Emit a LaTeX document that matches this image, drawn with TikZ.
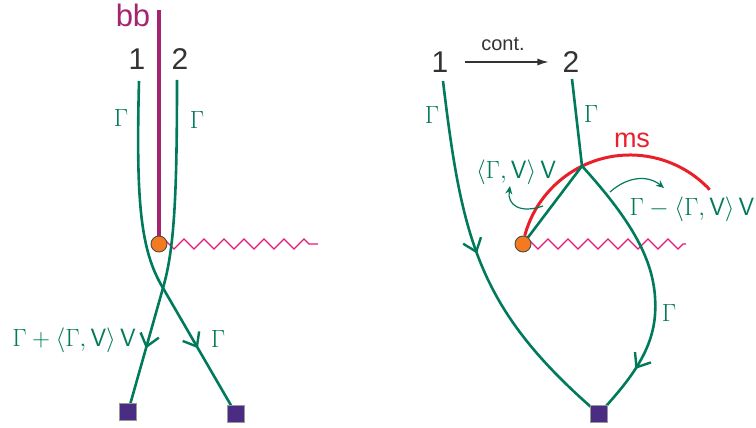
\documentclass[tikz,border=0pt]{standalone}
\usepackage{fontspec}
\newfontfamily\arialf{Liberation Sans}
\usetikzlibrary{decorations.pathmorphing,decorations.markings,arrows.meta}
\definecolor{pgreen}{HTML}{007A5A}
\definecolor{bbpurple}{HTML}{A3256F}
\definecolor{zigpink}{HTML}{E8177D}
\definecolor{msred}{HTML}{E8202A}
\definecolor{dotorange}{HTML}{F47A20}
\definecolor{sqpurple}{HTML}{4B2C83}
\definecolor{txtgray}{HTML}{333333}
\begin{document}
\begin{tikzpicture}[x=1pt,y=-1pt,
  gline/.style={draw=pgreen,line width=2.6pt},
  midarrow/.style={postaction={decorate},decoration={markings,
     mark=at position #1 with {\arrow[line width=2.4pt]{Straight Barb[length=12pt,width=19pt]}}}},
  thinarrow/.style={draw=pgreen,line width=1.2pt,-{Stealth[length=8pt,width=7pt]}},
  dotnode/.style={circle,draw=black!70,fill=dotorange,line width=0.9pt,minimum size=16pt,inner sep=0pt},
  sqnode/.style={rectangle,draw=gray!80,fill=sqpurple,line width=0.8pt,minimum size=17pt,inner sep=0pt},
  zig/.style={draw=zigpink,line width=1.1pt,decorate,decoration={zigzag,segment length=20pt,amplitude=5pt}},
  bbline/.style={draw=bbpurple,line width=4pt},
  msarc/.style={draw=msred,line width=3pt},
  glabel/.style={text=pgreen,font=\fontsize{25}{25}\selectfont,inner sep=0pt},
  numlabel/.style={text=txtgray,font=\arialf\fontsize{30}{30}\selectfont,inner sep=0pt},
  bblabel/.style={text=bbpurple,font=\arialf\fontsize{31}{31}\selectfont,inner sep=0pt},
  mslabel/.style={text=msred,font=\arialf\fontsize{27}{27}\selectfont,inner sep=0pt},
  contlabel/.style={text=txtgray,font=\arialf\fontsize{20}{20}\selectfont,inner sep=0pt},
  contarrow/.style={draw=txtgray,line width=1.2pt,-{Latex[length=11pt,width=7pt]}}
]
\useasboundingbox (0,0) rectangle (756,428);

%% ---------------- left diagram ----------------
\node[numlabel] (n1) at (137,59) {1};
\node[numlabel] (n2) at (180,59) {2};
\node[bblabel] (bb) at (133,15) {bb};
\coordinate (bbtop) at (159,10);
\coordinate (a1) at (139,81);
\coordinate (b1) at (177,80);
\coordinate (xL) at (163,288);
\coordinate (dLc) at (159,244);
\coordinate (zL) at (318,244);
\coordinate (sqLc) at (128,412);
\coordinate (sqRc) at (236,414);

\draw[zig] (dLc) -- (zL);
\draw[bbline] (bbtop) -- (dLc);
\draw[gline,midarrow=-76pt] (a1) .. controls (136,200) and (140,250) .. (xL) -- (sqRc);
\draw[gline,midarrow=-66pt] (b1) .. controls (177,200) and (174,250) .. (xL) -- (sqLc);
\node[dotnode] (dL) at (dLc) {};
\node[sqnode] (sqL) at (sqLc) {};
\node[sqnode] (sqR) at (sqRc) {};

\node[glabel] (gl1) at (121,118) {$\Gamma$};
\node[glabel] (gl2) at (197,120) {$\Gamma$};
\node[glabel] (gl3) at (218,339) {$\Gamma$};
\node[glabel] (gl4) at (74,340) {$\Gamma+\langle\Gamma,\mathsf{V}\rangle\,\mathsf{V}$};

%% ---------------- right diagram ----------------
\node[numlabel] (m1) at (440,62) {1};
\node[numlabel] (m2) at (571,62) {2};
\node[contlabel] (cont) at (503,44) {cont.};
\draw[contarrow,shorten <=16pt,shorten >=14pt] (m1) -- (m2);

\coordinate (c1) at (443,81);
\coordinate (d1) at (572,79);
\coordinate (v) at (582,166);
\coordinate (dRc) at (523,244);
\coordinate (zR) at (686,244);
\coordinate (sq2c) at (599,414);
\coordinate (arcc) at (630,264);

\draw[zig] (dRc) -- (zR);
\draw[msarc] (arcc) ++(-165:109) arc[start angle=-165,end angle=-43,radius=109];
\draw[gline,midarrow=-204pt] (c1) .. controls (462,240) and (478,310) .. (sq2c);
\draw[gline] (d1) -- (v) -- (dRc);
\draw[gline,midarrow=-58pt] (v) .. controls (640,230) and (658,270) .. (655,315)
   .. controls (652,355) and (625,385) .. (sq2c);
\node[dotnode] (dR) at (dRc) {};
\node[sqnode] (sq2) at (sq2c) {};

\coordinate (s1) at (543,206);
\coordinate (s2) at (510,186);
\draw[thinarrow] (s1) .. controls (520,214) and (507,205) .. (s2);
\coordinate (t1) at (610,192);
\coordinate (t2) at (664,188);
\draw[thinarrow] (t1) .. controls (628,176) and (648,175) .. (t2);

\node[mslabel] (ms) at (632,140) {ms};
\node[glabel] (gr1) at (432,115) {$\Gamma$};
\node[glabel] (gr2) at (591,114) {$\Gamma$};
\node[glabel] (gr3) at (669,313) {$\Gamma$};
\node[glabel] (gr4) at (516,172) {$\langle\Gamma,\mathsf{V}\rangle\,\mathsf{V}$};
\node[glabel] (gr5) at (692,209) {$\Gamma-\langle\Gamma,\mathsf{V}\rangle\,\mathsf{V}$};
\end{tikzpicture}
\end{document}
